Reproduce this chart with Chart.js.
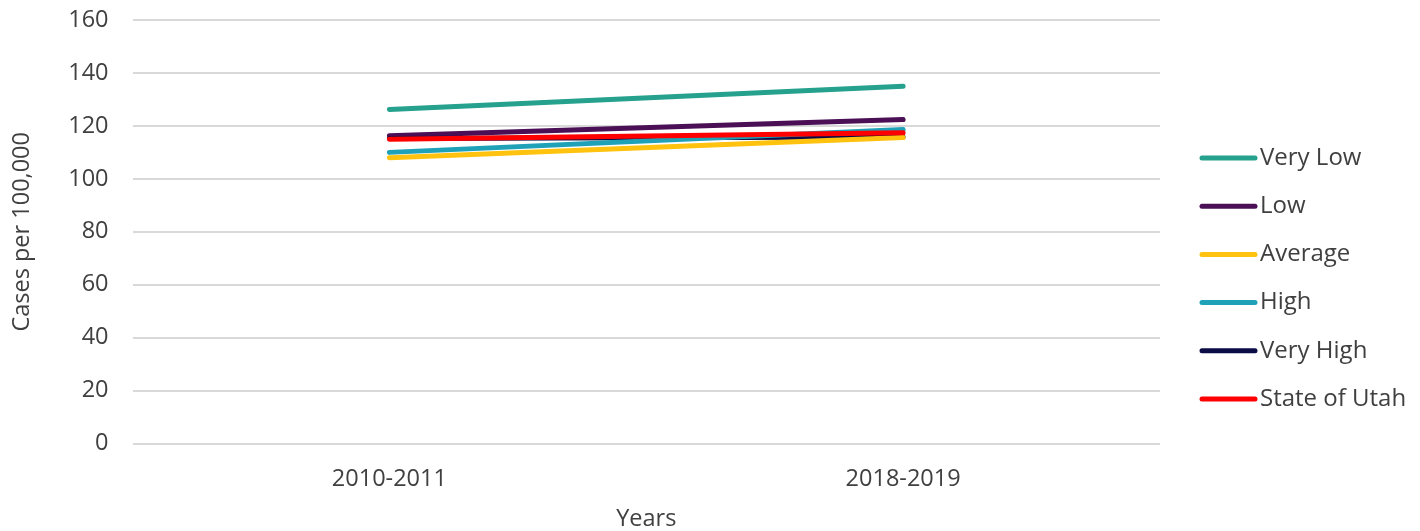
<!DOCTYPE html>
<html>
<head>
<meta charset="utf-8">
<script src="https://cdn.jsdelivr.net/npm/chart.js@4/dist/chart.umd.min.js"></script>
<style>
  html, body { margin: 0; padding: 0; background: #fff; }
  #wrap { width: 1420px; height: 531px; position: relative; }
</style>
</head>
<body>
<div id="wrap"><canvas id="rateChart"></canvas></div>
<script>
const years = ['2010-2011', '2018-2019'];
const seriesNames = ['Very Low', 'Low', 'Average', 'High', 'Very High', 'State of Utah'];
const seriesColors = ['#25a18e', '#4b0f56', '#fec20f', '#1fa2b8', '#0b0c46', '#ff0000'];
const veryLow = [126.2, 135.0];
const low = [116.3, 122.4];
const average = [108.0, 115.6];
const high = [110.0, 118.6];
const veryHigh = [115.2, 115.8];
const stateOfUtah = [115.0, 117.4];
const yTicks = [0, 20, 40, 60, 80, 100, 120, 140, 160];

const values = [veryLow, low, average, high, veryHigh, stateOfUtah];
// draw order: the state line sits on top of the others
const drawOrder = [0, 1, 4, 3, 2, 5];

const fontFamily = '"Open Sans", "Noto Sans", sans-serif';
const textColor = '#404040';

const datasets = seriesNames.map((name, i) => ({
    label: name,
    data: values[i],
    borderColor: seriesColors[i],
    backgroundColor: seriesColors[i],
    borderWidth: 5,
    borderCapStyle: 'round',
    pointRadius: 0,
    pointHoverRadius: 0,
    tension: 0,
    order: 6 - drawOrder.indexOf(i)
}));

// legend on the right: short line sample, then the label close after it
const sideLegend = {
    id: 'sideLegend',
    afterDraw(chart) {
        const ctx = chart.ctx;
        const area = chart.chartArea;
        const x0 = area.right + 40;
        const step = 48.2;
        const n = chart.data.datasets.length;
        const yStart = chart.height / 2 + 13 - step * (n - 1) / 2;
        ctx.save();
        ctx.font = '24px ' + fontFamily;
        ctx.textBaseline = 'middle';
        ctx.textAlign = 'left';
        chart.data.datasets.forEach((ds, i) => {
            const y = yStart + i * step;
            ctx.strokeStyle = ds.borderColor;
            ctx.lineWidth = 5;
            ctx.lineCap = 'round';
            ctx.beginPath();
            ctx.moveTo(x0 + 2, y);
            ctx.lineTo(x0 + 55, y);
            ctx.stroke();
            ctx.fillStyle = textColor;
            ctx.fillText(ds.label, x0 + 60, y);
        });
        ctx.restore();
    }
};

new Chart(document.getElementById('rateChart'), {
    type: 'line',
    data: { labels: years, datasets: datasets },
    plugins: [sideLegend],
    options: {
        responsive: true,
        maintainAspectRatio: false,
        animation: false,
        layout: { padding: { top: 0, right: 260, left: 8, bottom: -2 } },
        plugins: {
            tooltip: { enabled: false },
            legend: { display: false }
        },
        scales: {
            x: {
                offset: true,
                grid: { display: false },
                border: { display: false },
                ticks: { color: textColor, font: { family: fontFamily, size: 23.5 }, padding: 14 },
                title: { display: true, text: 'Years', color: textColor, font: { family: fontFamily, size: 23.5 }, padding: { top: -3, bottom: 0 } }
            },
            y: {
                min: 0,
                max: 160,
                afterBuildTicks(axis) { axis.ticks = yTicks.map(v => ({ value: v })); },
                afterFit(axis) { axis.paddingTop = 20; },
                grid: { color: '#d9d9d9', lineWidth: 2, drawTicks: false },
                border: { display: false },
                ticks: { color: textColor, font: { family: fontFamily, size: 23.5 }, padding: 24 },
                title: { display: true, text: 'Cases per 100,000', color: textColor, font: { family: fontFamily, size: 23.5 }, padding: { top: 0, bottom: 8 } }
            }
        }
    }
});
</script>
</body>
</html>
